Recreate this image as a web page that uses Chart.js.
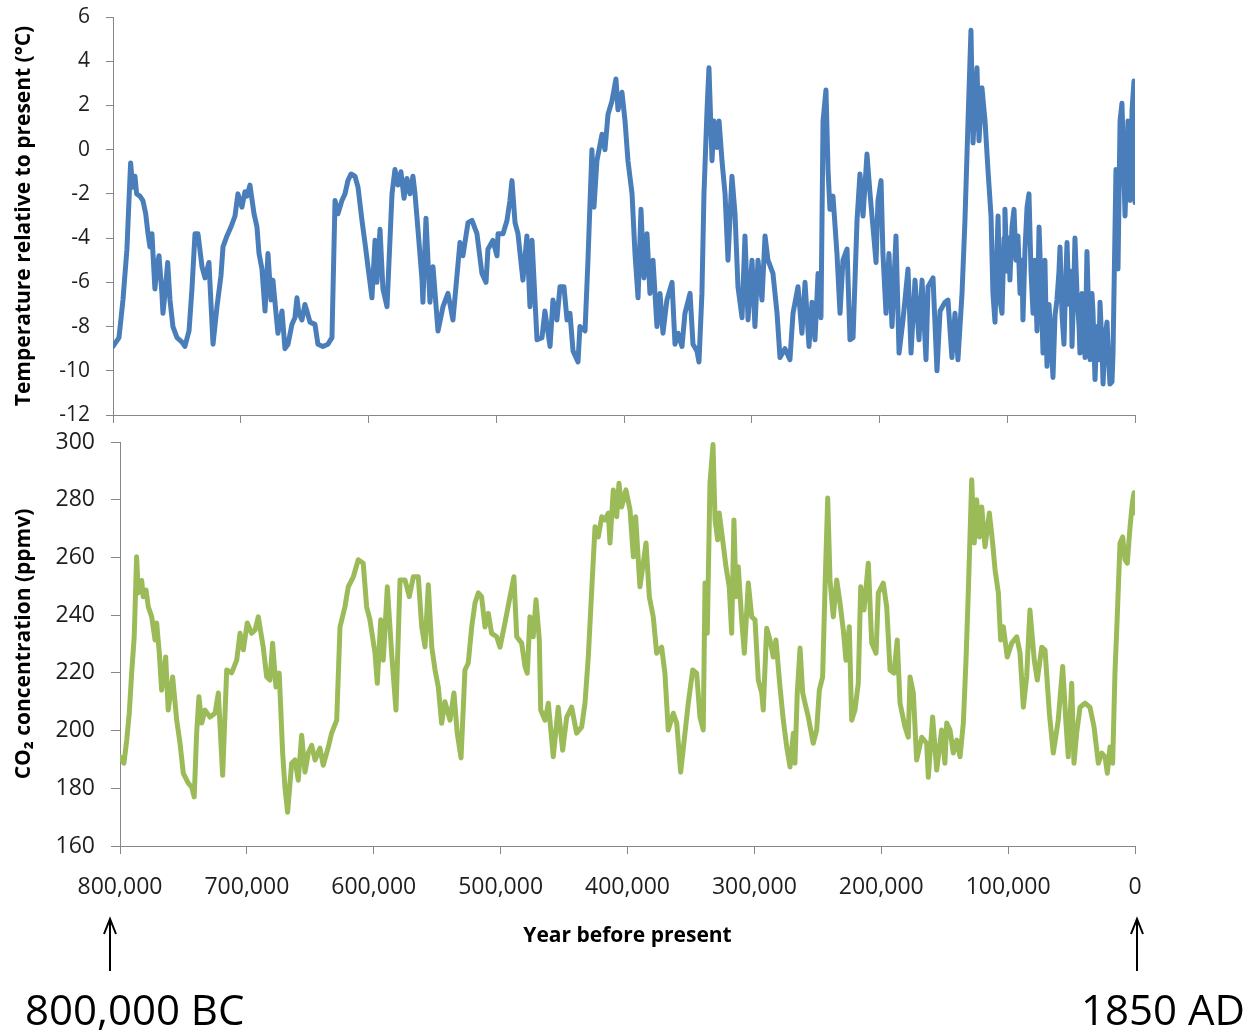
<!DOCTYPE html>
<html>
<head>
<meta charset="utf-8">
<title>Temperature and CO2, 800,000 years</title>
<script src="https://cdn.jsdelivr.net/npm/chart.js@4.4.0/dist/chart.umd.min.js"></script>
<style>
  body { margin: 0; background: #fff; width: 1249px; height: 1034px; overflow: hidden; position: relative; font-family: 'Open Sans', sans-serif; }
  #tempChart { position: absolute; left: 0; top: 0; }
  #co2Chart { position: absolute; left: 0; top: 425px; }
  #arrows { position: absolute; left: 0; top: 0; }
  .era { position: absolute; font-size: 42px; line-height: 1; color: #000; white-space: nowrap; }
</style>
</head>
<body>
<canvas id="tempChart" width="1249" height="440"></canvas>
<canvas id="co2Chart" width="1249" height="535"></canvas>
<svg id="arrows" width="1249" height="1034">
  <g stroke="#000" stroke-width="2" fill="none">
    <line x1="110" y1="920" x2="110" y2="971"/>
    <polyline points="104,934 110,919 116,934"/>
    <line x1="1137" y1="920" x2="1137" y2="971"/>
    <polyline points="1131,934 1137,919 1143,934"/>
  </g>
</svg>
<div class="era" style="left:25px; top:988px;">800,000 BC</div>
<div class="era" style="right:4px; top:988px;">1850 AD</div>

<script>
// age in thousands of years before present
const tempAgeKyr = [
  800.0, 795.3, 792.2, 789.1, 787.5, 786.2, 784.6, 782.8, 781.5, 778.9,
  776.6, 774.4, 772.6, 771.1, 769.5, 768.7, 767.2, 765.6, 764.0, 761.7,
  760.9, 759.3, 757.2, 755.4, 753.1, 749.9, 746.0, 743.7, 740.5, 738.2,
  735.8, 733.5, 730.3, 728.0, 724.9, 721.7, 718.6, 715.5, 713.9, 710.8,
  707.7, 704.5, 702.2, 699.1, 696.7, 695.1, 692.8, 689.6, 687.3, 685.7,
  683.4, 681.0, 678.7, 676.3, 674.8, 672.4, 670.9, 667.7, 665.4, 663.0,
  659.9, 657.6, 656.0, 654.5, 652.1, 649.8, 648.2, 645.8, 641.9, 639.6,
  635.7, 631.8, 628.6, 626.2, 623.9, 620.8, 618.4, 616.1, 613.7, 610.6,
  608.2, 605.1, 602.8, 600.4, 597.3, 594.9, 593.4, 591.0, 588.7, 585.5,
  581.6, 579.3, 576.9, 574.6, 572.2, 569.9, 567.5, 565.2, 563.6, 561.3,
  558.1, 557.4, 555.0, 551.9, 549.5, 545.6, 541.7, 537.8, 533.9, 528.4,
  526.1, 522.1, 519.0, 515.1, 511.2, 508.0, 506.5, 502.6, 499.4, 498.6,
  494.7, 491.6, 489.3, 487.7, 485.3, 483.0, 479.1, 476.0, 473.6, 472.0,
  468.1, 464.2, 461.9, 457.9, 455.6, 452.5, 450.1, 447.0, 444.6, 442.3,
  439.9, 436.0, 434.5, 430.5, 428.2, 425.1, 423.5, 421.2, 417.2, 414.9,
  412.5, 409.4, 406.3, 404.7, 401.6, 399.2, 396.9, 393.7, 391.4, 389.0,
  386.7, 384.4, 382.0, 379.7, 377.3, 374.2, 371.8, 369.5, 366.4, 362.4,
  360.1, 357.7, 354.6, 352.3, 348.3, 346.0, 342.9, 341.3, 339.0, 337.4,
  335.0, 333.5, 331.1, 329.6, 327.2, 325.6, 323.3, 320.9, 318.6, 315.5,
  313.1, 310.8, 307.6, 305.3, 302.9, 299.8, 297.5, 295.1, 292.0, 289.6,
  287.3, 283.4, 280.2, 277.9, 274.0, 270.1, 267.7, 263.8, 260.7, 258.3,
  255.2, 252.8, 250.5, 248.1, 245.8, 244.2, 241.9, 240.3, 238.8, 236.4,
  233.3, 230.9, 228.6, 225.4, 223.1, 220.7, 217.6, 215.3, 212.9, 209.8,
  207.4, 205.1, 202.7, 201.2, 198.8, 197.3, 194.9, 192.6, 190.2, 187.1,
  184.7, 181.6, 177.7, 175.3, 172.2, 169.1, 166.7, 163.6, 162.0, 158.1,
  155.0, 152.6, 148.7, 146.4, 143.3, 140.9, 138.6, 135.4, 133.1, 130.7,
  128.4, 126.8, 123.7, 122.1, 119.8, 117.4, 115.1,
  112.7, 111.2, 109.6, 108.0, 107.2, 105.7, 104.1, 102.5, 101.8, 100.2,
  98.6, 97.9, 96.3, 94.7, 93.2, 91.6, 90.0, 88.5, 87.7, 86.1,
  84.5, 83.0, 81.4, 79.8, 78.3, 76.7, 75.1, 73.6, 72.0, 70.5,
  68.9, 67.3, 65.8, 64.2, 62.6, 61.1, 59.5, 58.7, 57.1, 55.6,
  54.0, 53.2, 51.7, 50.1, 49.3, 47.8, 47.0, 45.4, 43.8, 43.1,
  41.5, 39.9, 39.1, 37.6, 36.0, 35.2, 33.7, 32.9, 31.3, 29.7,
  28.2, 27.4, 25.8, 25.0, 23.5, 21.9, 20.4, 19.6, 18.0, 17.2,
  14.9, 13.3, 11.7, 10.2, 7.8, 5.5, 3.9, 2.3, 0.8, 0
];
const tempAnomaly = [
  -8.9, -8.5, -6.8, -4.5, -2.3, -0.6, -1.7, -1.2, -2.0, -2.1,
  -2.3, -2.9, -3.8, -4.4, -3.8, -4.7, -6.3, -5.3, -4.8, -6.5,
  -7.4, -6.5, -5.1, -6.8, -8.0, -8.5, -8.7, -8.9, -8.2, -6.3,
  -3.8, -3.8, -5.3, -5.8, -5.1, -8.8, -7.1, -5.7, -4.4, -3.9,
  -3.5, -3.0, -2.0, -2.6, -1.9, -2.1, -1.6, -2.9, -3.5, -4.7,
  -5.4, -7.3, -4.7, -6.8, -5.9, -7.4, -8.3, -7.3, -9.0, -8.8,
  -7.9, -7.6, -6.7, -7.4, -7.7, -7.0, -7.3, -7.8, -7.9, -8.8,
  -8.9, -8.8, -8.5, -2.3, -2.9, -2.3, -2.0, -1.4, -1.1, -1.2,
  -1.7, -3.2, -4.2, -5.3, -6.7, -4.1, -6.0, -3.6, -6.3, -7.1,
  -2.0, -0.9, -1.6, -1.0, -2.2, -1.3, -2.0, -1.2, -2.0, -3.6,
  -5.9, -6.9, -3.1, -6.9, -5.3, -8.2, -7.1, -6.5, -7.7, -4.2,
  -4.8, -3.3, -3.2, -3.8, -5.6, -6.0, -4.5, -4.1, -4.8, -3.8,
  -3.8, -3.2, -2.3, -1.4, -3.3, -3.8, -5.9, -3.9, -7.1, -4.1,
  -8.6, -8.5, -7.3, -8.9, -6.8, -7.7, -6.2, -6.2, -7.7, -7.4,
  -9.1, -9.6, -8.0, -8.2, -5.0, 0.0, -2.6, -0.5, 0.7, 0.0,
  1.6, 2.2, 3.2, 1.8, 2.6, 1.3, -0.5, -2.0, -4.7, -6.7,
  -2.7, -5.8, -3.8, -6.5, -5.0, -8.0, -6.5, -8.3, -6.8, -6.0,
  -8.8, -8.3, -8.9, -7.4, -6.5, -8.8, -9.1, -9.6, -6.5, -2.0,
  1.8, 3.7, -0.5, 1.3, 0.1, 1.3, -0.5, -2.0, -5.0, -1.2,
  -2.9, -6.2, -7.6, -3.9, -7.7, -5.0, -8.0, -5.0, -6.8, -3.9,
  -5.0, -5.6, -7.4, -9.4, -9.0, -9.5, -7.4, -6.2, -8.3, -6.0,
  -8.9, -6.9, -8.6, -5.6, -7.6, 1.3, 2.7, -0.9, -2.7, -2.1,
  -4.7, -7.4, -5.0, -4.5, -8.6, -8.5, -3.2, -1.1, -3.0, -0.2,
  -2.0, -3.5, -5.1, -2.3, -1.4, -4.7, -7.4, -4.7, -8.0, -3.9,
  -9.2, -7.7, -5.4, -9.2, -5.9, -8.6, -5.9, -9.5, -6.2, -5.8,
  -10.0, -7.3, -6.9, -6.8, -9.4, -7.4, -9.5, -6.5, -3.2, 1.3,
  5.4, 0.3, 3.7, 0.4, 2.8, 1.3, -0.9,
  -3.0, -6.5, -7.8, -4.5, -3.0, -6.8, -7.4, -4.0, -2.7, -5.5,
  -4.0, -5.9, -3.5, -2.7, -5.0, -3.9, -6.5, -5.0, -7.7, -4.5,
  -2.6, -2.0, -5.5, -7.4, -5.0, -8.2, -3.5, -6.0, -9.2, -5.0,
  -9.8, -7.0, -8.5, -10.3, -7.5, -6.8, -5.5, -4.4, -7.5, -8.8,
  -5.5, -4.2, -7.0, -5.5, -8.9, -6.0, -4.0, -6.5, -8.0, -9.2,
  -6.5, -8.5, -9.4, -4.6, -8.0, -9.5, -6.5, -7.3, -10.4, -8.0,
  -9.5, -6.9, -9.0, -10.6, -8.5, -7.8, -9.8, -10.6, -10.5, -9.2,
  -0.9, -5.4, 1.3, 2.1, -3.0, 1.3, -2.3, 1.8, 3.1, -2.4
];

const co2AgeKyr = [
  800.0, 796.9, 794.7, 792.7, 790.8, 788.8, 786.9, 785.6, 782.9, 781.7,
  779.5, 777.7, 775.0, 772.4, 771.1, 769.0, 767.2, 764.0, 762.0, 758.5,
  755.3, 752.7, 750.1, 746.2, 743.5, 741.5, 739.6, 737.8, 735.6, 733.0,
  729.1, 725.1, 722.5, 719.1, 715.9, 712.0, 708.0, 705.4, 702.8, 699.7,
  696.2, 693.6, 691.0, 687.1, 684.4, 681.8, 679.7, 677.1, 674.5, 671.8,
  670.0, 667.9, 664.7, 662.1, 659.5, 656.8, 654.2, 651.6, 648.9, 646.3,
  642.4, 639.8, 635.8, 633.2, 629.2, 626.6, 622.7, 620.1, 616.1, 612.2,
  608.3, 605.6, 603.0, 599.0, 597.2, 594.5, 592.5, 589.3, 585.9, 582.5,
  579.3, 575.4, 572.0, 568.8, 564.9, 562.2, 559.6, 557.0, 554.3, 551.7,
  549.1, 546.5, 543.9, 539.9, 536.8, 534.2, 531.2, 528.1, 525.5, 522.8,
  520.2, 517.6, 515.0, 512.3, 509.7, 507.1, 503.1, 500.5, 496.6, 492.6,
  489.5, 487.3, 483.4, 480.8, 479.0, 476.9, 474.3, 472.1, 469.5, 468.4,
  465.0, 462.4, 458.5, 454.6, 451.1, 447.9, 444.0, 440.1, 436.1, 433.5,
  430.9, 428.2, 425.6, 423.0, 420.3, 417.7, 415.1, 413.8, 411.2, 408.5,
  406.7, 404.6, 401.2, 398.0, 395.4, 393.6, 390.2, 385.4, 382.8, 379.7,
  377.0, 373.1, 370.5, 367.9, 363.9, 361.2, 358.1, 354.7, 352.1, 348.6,
  345.5, 342.9, 340.3, 338.9, 337.1, 335.0, 332.6, 331.0, 328.9, 327.7,
  325.0, 322.4, 319.8, 317.9, 316.1, 314.5, 312.7, 310.0, 307.9, 304.8,
  302.1, 299.5, 296.9, 294.2, 293.0, 290.3, 287.7, 285.1, 283.0, 279.8,
  277.2, 274.5, 271.9, 269.3, 268.0, 266.2, 264.0, 261.9, 260.1, 257.5,
  253.6, 250.9, 248.8, 246.2, 244.3, 242.2, 240.4, 237.8, 235.1, 232.5,
  229.9, 227.8, 225.2, 223.3, 220.7, 218.1, 216.2, 213.6, 210.2, 207.5,
  204.1, 202.3, 198.4, 195.7, 193.1, 190.0, 187.4, 185.2, 181.3, 178.7,
  177.3, 174.7, 172.1, 168.1, 164.2, 162.9, 159.5, 156.3, 152.4, 149.8,
  148.4, 145.8, 143.2, 140.5, 137.9, 135.3, 133.2, 131.4, 128.7, 126.7,
  124.8, 122.7, 120.8, 118.2, 114.8, 112.2, 110.3, 107.7, 105.9, 103.8,
  100.7, 97.2, 93.2, 90.6, 88.0, 85.4, 82.8, 79.4, 77.0, 73.5,
  70.9, 67.5, 64.4, 60.5, 57.0, 54.4, 52.6, 49.9, 48.1, 46.0,
  43.3, 39.4, 35.5, 32.3, 28.9, 26.2, 23.6, 21.8, 19.7, 17.6,
  15.8, 14.0, 11.8, 9.7, 7.9, 6.1, 3.9, 2.1, 0.8, 0
];
const co2Ppmv = [
  190.9, 188.7, 196.7, 206, 220, 232.5, 260.2, 247.7, 252, 246.4,
  248.7, 242.9, 239.4, 231.4, 237.3, 226.8, 214, 225.5, 207.1, 218.6,
  203.6, 195.6, 185.2, 181.8, 180.4, 177, 199.1, 211.7, 202.6, 207.1,
  204.7, 206, 213, 184.5, 221, 220, 224.4, 233.7, 228, 237.3,
  233.7, 234.8, 239.4, 228.9, 218.6, 217.5, 230.3, 215.1, 219.9, 192.2,
  180.4, 171.7, 188.7, 189.8, 182.8, 198.4, 185.6, 192.2, 194.9, 189.8,
  193.9, 188, 194.3, 199.1, 203.6, 235.9, 242.9, 249.8, 253.3, 259.2,
  258, 242.9, 238.4, 226.8, 216.4, 238.4, 224.4, 249.8, 226.8, 207.1,
  252.2, 252.2, 246.4, 253.3, 253.3, 236, 229, 250.5, 229, 221,
  215, 202.5, 210, 203.6, 213, 199.1, 190.5, 221, 223.4, 235.9,
  244.2, 247.7, 246.4, 235.9, 240.6, 233.7, 232.5, 228.9, 237.3, 246.4,
  253.3, 232.5, 230.3, 222.2, 219.9, 239.4, 232.5, 245.3, 231.4, 207.1,
  203.6, 209.5, 190.9, 208.1, 193.2, 204.7, 208.1, 199.1, 201.3, 209.5,
  225.5, 248.7, 270.6, 267.1, 274.1, 273, 275.4, 265, 283.4, 274.1,
  285.7, 277.5, 283.4, 276.4, 260.2, 274.1, 249.8, 265, 246.4, 239.4,
  226.8, 228.9, 219.9, 200.2, 206, 202.6, 185.6, 199.1, 209.5, 221,
  219.9, 204.7, 200.2, 251.1, 233.7, 285.7, 299.1, 273, 266.1, 275.4,
  266.1, 256.8, 249.8, 233.7, 273, 246.4, 256.8, 238.4, 226.8, 251.1,
  239.4, 238.4, 217.5, 213, 207.1, 235.5, 231.4, 225.5, 231.4, 215.1,
  203.6, 194.3, 187.4, 199.1, 188.7, 213, 228.6, 213, 209.5, 204.7,
  195.6, 200.2, 214, 218.6, 249.8, 280.6, 252.2, 239.4, 252.2, 244.2,
  234.8, 224.4, 236, 203.6, 207.1, 216.4, 249.8, 241.8, 258, 230.3,
  226.8, 247.7, 251.1, 242.9, 221, 219.9, 231.4, 209.5, 201.3, 197.7,
  218.6, 213, 189.8, 197.7, 195.6, 183.8, 204.7, 186.3, 200.2, 188.7,
  202.6, 200.2, 192.2, 196.7, 190.9, 202.6, 224.4, 247.7, 286.9, 265,
  280, 267.1, 277.5, 263.7, 275.4, 265, 255.7, 247.7, 231.4, 236,
  225.5, 230.3, 232.5, 226.8, 208.1, 218.6, 241.8, 224.4, 217.5, 228.9,
  227.9, 206, 192.2, 203.6, 222.2, 202.6, 190.9, 216.4, 188.7, 199.1,
  208.1, 209.5, 208.1, 201.3, 188.7, 192.2, 190.9, 185.2, 194.3, 188.7,
  219.9, 239.4, 265, 267.1, 259.2, 258, 270.6, 278.9, 282.4, 275.4
];

const tempTicks = { min: -12, max: 6, step: 2 };
const co2Ticks = { min: 160, max: 300, step: 20 };
const yearTicks = { min: 0, max: 800000, step: 100000 };

const axisGray = '#878787';
const textColor = '#1e1e1e';
const fontFamily = "'Open Sans', sans-serif";

function toPoints(ages, values) {
  return ages.map((a, i) => ({ x: a * 1000, y: values[i] }));
}

// fixed box sizes so the plot areas sit where the original has them
function fixWidth(w) {
  return s => { s.width = w; s.paddingTop = 0; s.paddingBottom = 0; };
}
function fixHeight(h) {
  return s => { s.height = h; s.paddingLeft = 0; s.paddingRight = 0; };
}

function yearAxis(showLabels, height) {
  return {
    type: 'linear',
    min: yearTicks.min,
    max: yearTicks.max,
    reverse: true,
    ticks: {
      display: showLabels,
      stepSize: yearTicks.step,
      padding: 20,
      color: textColor,
      font: { family: fontFamily, size: 23 },
      maxRotation: 0,
      callback: v => v.toLocaleString('en-US')
    },
    grid: { drawOnChartArea: false, drawTicks: true, tickLength: 8, color: axisGray },
    border: { color: axisGray, width: 1 },
    afterFit: fixHeight(height)
  };
}

function seriesLine(points, color) {
  return {
    data: points,
    borderColor: color,
    borderWidth: 5,
    pointRadius: 0,
    tension: 0,
    borderJoinStyle: 'round',
    borderCapStyle: 'round'
  };
}

const commonOptions = {
  responsive: false,
  animation: false,
  devicePixelRatio: 1,
  layout: { padding: { left: 0, right: 114, top: 17, bottom: 0 } },
  plugins: { legend: { display: false }, tooltip: { enabled: false } }
};

new Chart(document.getElementById('tempChart'), {
  type: 'line',
  data: { datasets: [seriesLine(toPoints(tempAgeKyr, tempAnomaly), '#4a7ebb')] },
  options: Object.assign({}, commonOptions, {
    scales: {
      x: yearAxis(false, 25),
      y: {
        min: tempTicks.min,
        max: tempTicks.max,
        ticks: { stepSize: tempTicks.step, padding: 16, color: textColor, font: { family: fontFamily, size: 21 } },
        grid: { drawOnChartArea: false, tickLength: 7, color: axisGray },
        border: { color: axisGray, width: 1 },
        title: {
          display: true,
          text: 'Temperature relative to present (°C)',
          color: '#000',
          font: { family: fontFamily, size: 21, weight: 'bold' },
          padding: { top: 11, bottom: 0 }
        },
        afterFit: fixWidth(113)
      }
    }
  })
});

new Chart(document.getElementById('co2Chart'), {
  type: 'line',
  data: { datasets: [seriesLine(toPoints(co2AgeKyr, co2Ppmv), '#9bbb59')] },
  options: Object.assign({}, commonOptions, {
    scales: {
      x: Object.assign(yearAxis(true, 114), {
        title: {
          display: true,
          text: 'Year before present',
          color: '#000',
          font: { family: fontFamily, size: 21, weight: 'bold' },
          padding: { top: 0, bottom: 11 }
        }
      }),
      y: {
        min: co2Ticks.min,
        max: co2Ticks.max,
        ticks: { stepSize: co2Ticks.step, padding: 16, color: textColor, font: { family: fontFamily, size: 23 } },
        grid: { drawOnChartArea: false, tickLength: 9, color: axisGray },
        border: { color: axisGray, width: 1 },
        title: {
          display: true,
          text: 'CO₂ concentration (ppmv)',
          color: '#000',
          font: { family: fontFamily, size: 21, weight: 'bold' },
          padding: { top: 11, bottom: 0 }
        },
        afterFit: fixWidth(120)
      }
    }
  })
});
</script>
</body>
</html>
